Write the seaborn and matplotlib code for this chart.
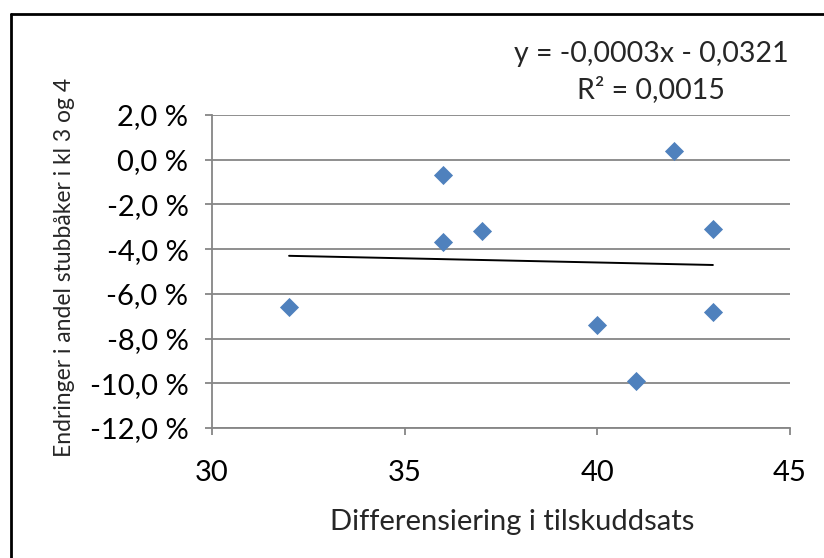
import matplotlib
matplotlib.use("Agg")
import matplotlib.pyplot as plt
import numpy as np
import pandas as pd
import seaborn as sns
from matplotlib.lines import Line2D
from matplotlib.ticker import FuncFormatter

# data
differensiering = [32, 36, 36, 37, 40, 41, 42, 43, 43]
endring = [-0.066, -0.007, -0.037, -0.032, -0.074, -0.099, 0.004, -0.031, -0.068]

x_ticks = [30, 35, 40, 45]
y_ticks = [0.02, 0.0, -0.02, -0.04, -0.06, -0.08, -0.10, -0.12]

eq_text = "y = -0,0003x - 0,0321"
r2_text = "R\u00b2 = 0,0015"

df = pd.DataFrame({"x": differensiering, "y": endring})

sns.set_style("white")
plt.rcParams["font.family"] = ["Lato", "DejaVu Sans"]

fig = plt.figure(figsize=(8.24, 5.58), dpi=100)
ax = fig.add_axes([0.2573, 0.2330, 0.7014, 0.5609])

grid_col = "#868686"
for v in y_ticks:
    ax.axhline(v, color=grid_col, linewidth=1.3, zorder=0)

sns.regplot(data=df, x="x", y="y", ax=ax, scatter=False, ci=None, truncate=True,
            color="black", line_kws={"linewidth": 1.4, "zorder": 2})
sns.scatterplot(data=df, x="x", y="y", ax=ax, marker="D", s=95, color="#4F81BD",
                edgecolor="#4F81BD", linewidth=0, zorder=3)

ax.set_xlim(30, 45)
ax.set_ylim(-0.12, 0.02)
ax.set_xticks(x_ticks)
ax.set_yticks(y_ticks)
ax.yaxis.set_major_formatter(FuncFormatter(lambda v, _: f"{v * 100:.1f} %".replace(".", ",")))

for side in ["top", "right"]:
    ax.spines[side].set_visible(False)
for side in ["left", "bottom"]:
    ax.spines[side].set_color(grid_col)
    ax.spines[side].set_linewidth(1.3)

ax.tick_params(axis="both", which="major", direction="out", length=5, width=1.3,
               color=grid_col, labelsize=21, labelcolor="black", left=True, bottom=True)
ax.tick_params(axis="x", pad=18)
ax.tick_params(axis="y", pad=12)

ax.set_xlabel("Differensiering i tilskuddsats", fontsize=21, va="center")
ax.xaxis.set_label_coords(0.519, -0.30)
ax.set_ylabel("Endringer i andel stubbåker i kl 3 og 4", fontsize=16.5, va="center")
ax.yaxis.set_label_coords(-0.255, 0.514)

fig.text(651 / 824, 1 - 54 / 558, eq_text, fontsize=20.5, ha="center", va="center")
fig.text(651 / 824, 1 - 90 / 558, r2_text, fontsize=20.5, ha="center", va="center")

# chart-area border (only top and left edge visible in the crop)
fig.add_artist(Line2D([11 / 824, 1], [1 - 14 / 558, 1 - 14 / 558], transform=fig.transFigure,
                      color="black", linewidth=2))
fig.add_artist(Line2D([11 / 824, 11 / 824], [0, 1 - 14 / 558], transform=fig.transFigure,
                      color="black", linewidth=2))

fig.savefig("out.png", dpi=100)
plt.close(fig)
